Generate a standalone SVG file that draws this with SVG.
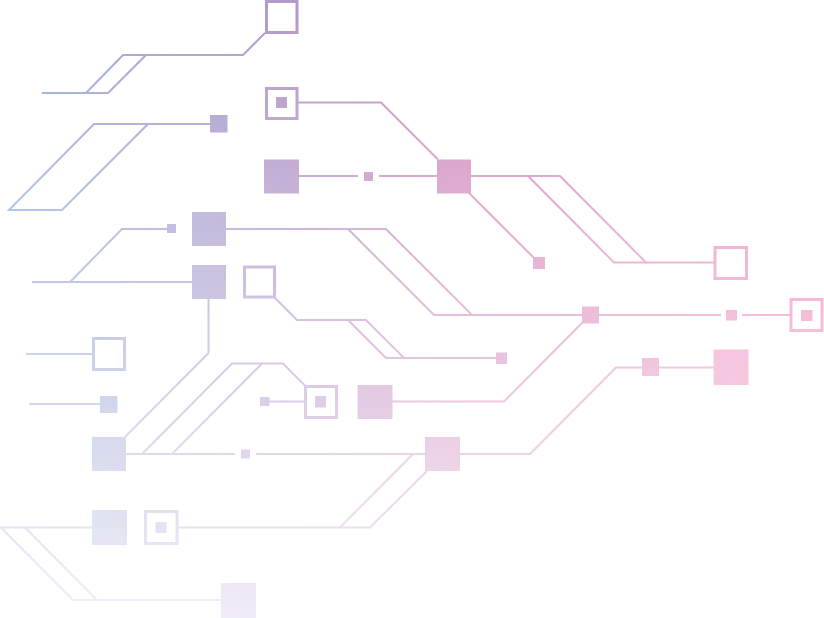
<svg xmlns="http://www.w3.org/2000/svg" width="824" height="618" viewBox="0 0 824 618">
<defs>
<linearGradient id="hue" gradientUnits="userSpaceOnUse" x1="0" y1="0" x2="824" y2="0">
<stop offset="0" stop-color="#99b3dd"/>
<stop offset="0.073" stop-color="#9dadd6"/>
<stop offset="0.131" stop-color="#a2a9d5"/>
<stop offset="0.261" stop-color="#ada2cf"/>
<stop offset="0.341" stop-color="#b39acb"/>
<stop offset="0.551" stop-color="#d491c2"/>
<stop offset="0.655" stop-color="#d891c2"/>
<stop offset="0.886" stop-color="#ed94c4"/>
<stop offset="1" stop-color="#f28cbc"/>
</linearGradient>
<linearGradient id="fade" gradientUnits="userSpaceOnUse" x1="0" y1="17" x2="0" y2="618">
<stop offset="0" stop-color="#fff" stop-opacity="1"/>
<stop offset="1" stop-color="#fff" stop-opacity="0.19"/>
</linearGradient>
<mask id="m" maskUnits="userSpaceOnUse" x="0" y="0" width="824" height="618">
<rect width="824" height="618" fill="url(#fade)"/>
</mask>
<style>
.w{fill:none;stroke:url(#hue);stroke-width:2;stroke-linejoin:miter}
.o{fill:none;stroke:url(#hue);stroke-width:3}
.f{fill:url(#hue);stroke:none}
</style>
</defs>
<rect width="824" height="618" fill="#fff"/>
<g mask="url(#m)">
<g id="connectors">
<polyline class="w" points="265,33 243,55 123,55 86,93 42,93"/>
<polyline class="w" points="146,55 108,93 86,93"/>
<polyline class="w" points="298,102.5 381,102.5 438,159.5"/>
<polyline class="w" points="298,176 358,176"/>
<polyline class="w" points="379,176 437,176"/>
<polyline class="w" points="471,176 560,176 646,262.5 715,262.5"/>
<polyline class="w" points="528,176 614,262.5 646,262.5"/>
<polyline class="w" points="469,193 535,259"/>
<polyline class="w" points="210,124 94,124 9,210 62,210 148,124"/>
<polyline class="w" points="167,229 122,229 70,282"/>
<polyline class="w" points="32,282 192,282"/>
<polyline class="w" points="226,229 386,229 472,315"/>
<polyline class="w" points="348,229 434,315 582,315"/>
<polyline class="w" points="599,315 721,315"/>
<polyline class="w" points="742,315 791,315"/>
<polyline class="w" points="275,298 297,320 366,320 404,358 496,358"/>
<polyline class="w" points="348,320 386,358 404,358"/>
<polyline class="w" points="208.5,299 208.5,353 125,437"/>
<polyline class="w" points="583,322 504,401.5 392,401.5"/>
<polyline class="w" points="269,401.5 305,401.5"/>
<polyline class="w" points="126,454 235,454"/>
<polyline class="w" points="256,454 425,454"/>
<polyline class="w" points="142,454 232,363.5 283,363.5 305,385.5"/>
<polyline class="w" points="172,454 262,363.5"/>
<polyline class="w" points="460,454 530,454 616,367.5 642,367.5"/>
<polyline class="w" points="659,367.5 714,367.5"/>
<polyline class="w" points="178,527.5 370,527.5 427,471"/>
<polyline class="w" points="340,527.5 413,454"/>
<polyline class="w" points="92,527.5 1,527.5 73,600 221,600"/>
<polyline class="w" points="25,527.5 97,600"/>
<polyline class="w" points="26,354 92,354"/>
<polyline class="w" points="29,404 100,404"/>
</g>
<g id="n1"><rect class="o" x="266.5" y="1.5" width="30.5" height="31"/></g>
<g id="n2"><rect class="o" x="266.5" y="88.5" width="30.5" height="30"/><rect class="f" x="276" y="97" width="11" height="11"/></g>
<g id="n3"><rect class="f" x="264" y="159.5" width="35" height="34"/></g>
<g id="n4"><rect class="f" x="364" y="172" width="9" height="9"/></g>
<g id="n5"><rect class="f" x="437" y="159.5" width="34" height="34"/></g>
<g id="n6"><rect class="f" x="533" y="257" width="12" height="12"/></g>
<g id="n7"><rect class="o" x="715" y="247.5" width="31.5" height="31"/></g>
<g id="n8"><rect class="f" x="210" y="115" width="17.5" height="17.5"/></g>
<g id="n9"><rect class="f" x="167" y="224" width="9" height="9"/></g>
<g id="n10"><rect class="f" x="192" y="212" width="34" height="34"/></g>
<g id="n11"><rect class="f" x="192" y="265" width="34" height="34"/></g>
<g id="n12"><rect class="o" x="244.5" y="267" width="30" height="30"/></g>
<g id="n13"><rect class="f" x="496" y="352.5" width="11" height="11.5"/></g>
<g id="n14"><rect class="f" x="582" y="306.5" width="17" height="17"/></g>
<g id="n15"><rect class="f" x="726" y="310" width="11" height="10.5"/></g>
<g id="n16"><rect class="o" x="791" y="299.5" width="31" height="31"/><rect class="f" x="801" y="310" width="11.5" height="11"/></g>
<g id="n17"><rect class="o" x="93.5" y="338.5" width="31" height="31"/></g>
<g id="n18"><rect class="f" x="100" y="396" width="17.5" height="17"/></g>
<g id="n19"><rect class="f" x="260" y="397" width="9.5" height="9"/></g>
<g id="n20"><rect class="o" x="305.5" y="386.5" width="31" height="31"/><rect class="f" x="315" y="396" width="11" height="11.5"/></g>
<g id="n21"><rect class="f" x="357.5" y="385" width="35" height="34"/></g>
<g id="n22"><rect class="f" x="241" y="449.5" width="9" height="9"/></g>
<g id="n23"><rect class="f" x="92" y="437" width="34" height="34"/></g>
<g id="n24"><rect class="f" x="425" y="437" width="35" height="34"/></g>
<g id="n25"><rect class="f" x="642" y="358" width="17" height="18"/></g>
<g id="n26"><rect class="f" x="713.5" y="349.5" width="35" height="35.5"/></g>
<g id="n27"><rect class="f" x="92" y="510" width="35" height="35"/></g>
<g id="n28"><rect class="o" x="145.5" y="511.5" width="31.5" height="32"/><rect class="f" x="155.5" y="522" width="11" height="11"/></g>
<g id="n29"><rect class="f" x="221" y="583" width="35" height="35"/></g>
</g>
</svg>
